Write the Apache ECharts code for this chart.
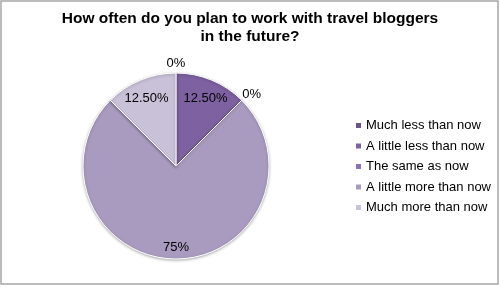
<!DOCTYPE html>
<html><head><meta charset="utf-8">
<script src="https://cdn.jsdelivr.net/npm/echarts@6/dist/echarts.min.js"></script>
<style>html,body{margin:0;padding:0;background:#fff}#c{width:500px;height:287px}</style>
</head><body><div id="c"></div>
<script>
const categories = ["Much less than now", "A little less than now", "The same as now", "A little more than now", "Much more than now"];
const percents = [0, 12.5, 0, 75, 12.5];
const labelTexts = ["0%", "12.50%", "0%", "75%", "12.50%"];
const colors = ["#6a5487", "#7d61a0", "#8c72b4", "#a99bbf", "#c9c1d8"];
const titleText = "How often do you plan to work with travel bloggers\nin the future?";

const chart = echarts.init(document.getElementById('c'), null, {renderer: 'canvas'});
const data = categories.map((n, i) => ({name: n, value: percents[i]}));
const font = '"Liberation Sans", Arial, sans-serif';
const labelSeries = (radius, showZero) => ({
  type: 'pie', center: [176, 170], radius: radius, startAngle: 90, clockwise: true,
  silent: true, animation: false, legendHoverLink: false,
  itemStyle: {color: 'rgba(0,0,0,0)', borderWidth: 0},
  label: {show: true, position: 'inside', color: '#000', fontSize: 13, fontFamily: font,
    formatter: p => ((percents[p.dataIndex] === 0) === showZero ? labelTexts[p.dataIndex] : '')},
  labelLine: {show: false},
  emphasis: {disabled: true},
  data: data
});
chart.setOption({
  animation: false,
  color: colors,
  title: {text: titleText, left: 'center', top: 10, itemGap: 0, padding: 0,
    textStyle: {fontSize: 15.5, fontWeight: 'bold', fontFamily: font, color: '#000', lineHeight: 18}},
  legend: {orient: 'vertical', left: 354, top: 119, itemWidth: 7, itemHeight: 7, itemGap: 7.5,
    padding: 0, icon: 'rect', data: categories,
    textStyle: {fontSize: 13, lineHeight: 13, fontFamily: font, color: '#000', padding: [0, 0, 0, -1]}},
  graphic: [{type: 'rect', shape: {x: 1, y: 1, width: 497, height: 283},
    style: {fill: 'none', stroke: '#a6a6a6', lineWidth: 1.5}, silent: true}],
  series: [
    {type: 'pie', center: [176, 166], radius: 93, startAngle: 90, clockwise: true,
     animation: false,
     itemStyle: {borderColor: '#fff', borderWidth: 1, shadowBlur: 3, shadowColor: 'rgba(0,0,0,0.3)', shadowOffsetY: 1},
     label: {show: false}, labelLine: {show: false}, emphasis: {disabled: true},
     data: data},
    labelSeries([0, 148], false),
    labelSeries([0, 208], true)
  ]
});
</script></body></html>
